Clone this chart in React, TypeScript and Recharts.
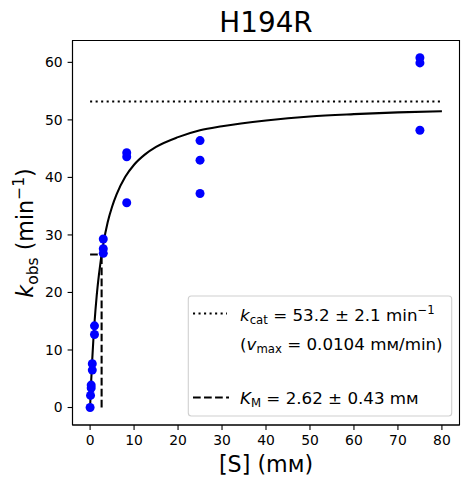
import { ComposedChart, XAxis, YAxis, Line, Scatter, ReferenceLine, ReferenceArea } from 'recharts'

// measured substrate concentrations (mM) and observed rates (min^-1)
const S_CONC = [0, 0.1, 0.25, 0.25, 0.5, 0.5, 1, 1, 3, 3, 3, 8.33, 8.33, 8.33, 25, 25, 25, 75, 75, 75]
const K_OBS = [0, 2.1, 3.4, 3.9, 6.5, 7.6, 12.7, 14.2, 26.8, 27.6, 29.3, 44.3, 43.6, 35.6, 46.4, 43.0, 37.2, 60.8, 59.9, 48.2]

// fitted curve
const FIT_S = [0, 0.25, 0.5, 1, 1.5, 2, 3, 4, 5, 6, 8, 10, 12.5, 15, 20, 25, 30, 40, 50, 60, 70, 80]
const FIT_K = [0, 4.6, 8.5, 14.7, 19.4, 23.0, 28.4, 32.2, 34.9, 37.0, 40.1, 42.2, 44.0, 45.3, 47.0, 48.2, 48.9, 49.9, 50.6, 51.0, 51.3, 51.5]

const KCAT = 53.2
const KCAT_ERR = 2.1
const VMAX = 0.0104
const KM = 2.62
const KM_ERR = 0.43
const S_MAX = 80

const X_TICKS = [0, 10, 20, 30, 40, 50, 60, 70, 80]
const Y_TICKS = [0, 10, 20, 30, 40, 50, 60]
const X_DOMAIN = [-4, 84]
const Y_DOMAIN = [-3.04, 63.8]

const FONT = 'DejaVu Sans'
const points = S_CONC.map((x, i) => ({ x, y: K_OBS[i] }))
const fit = FIT_S.map((x, i) => ({ x, y: FIT_K[i] }))

const axisStyle = { stroke: '#000', strokeWidth: 1.1 }
const tickStyle = { fill: '#000', fontSize: 13.9, fontFamily: FONT }

const Dot = (props: any) => <circle cx={props.cx} cy={props.cy} r={4.5} fill="#0000ff" />

export default function App() {
  return (
    <div style={{ position: 'absolute', left: 0, top: 0, width: 469, height: 484, background: '#fff' }}>
      <ComposedChart width={469} height={484} margin={{ top: 40.5, right: 9.5, bottom: 0, left: 0 }}>
        <XAxis
          type="number"
          dataKey="x"
          domain={X_DOMAIN}
          ticks={X_TICKS}
          allowDataOverflow
          height={59}
          axisLine={axisStyle}
          tickLine={axisStyle}
          tickSize={4.9}
          tickMargin={4.9}
          tick={tickStyle}
        />
        <YAxis
          type="number"
          dataKey="y"
          domain={Y_DOMAIN}
          ticks={Y_TICKS}
          allowDataOverflow
          width={72.5}
          axisLine={axisStyle}
          tickLine={axisStyle}
          tickSize={4.9}
          tickMargin={4.9}
          tick={tickStyle}
        />
        <ReferenceArea
          x1={X_DOMAIN[0]} x2={X_DOMAIN[1]} y1={Y_DOMAIN[0]} y2={Y_DOMAIN[1]}
          stroke="#000" strokeWidth={1.1} fill="none" fillOpacity={0}
        />
        <ReferenceLine
          segment={[{ x: 0, y: KCAT }, { x: S_MAX, y: KCAT }]}
          stroke="#000" strokeWidth={2.08} strokeDasharray="2.08 3.44"
        />
        <ReferenceLine
          segment={[{ x: 0, y: KCAT / 2 }, { x: KM, y: KCAT / 2 }]}
          stroke="#000" strokeWidth={2.08} strokeDasharray="7.7 3.33"
        />
        <ReferenceLine
          segment={[{ x: KM, y: 0 }, { x: KM, y: KCAT / 2 }]}
          stroke="#000" strokeWidth={2.08} strokeDasharray="7.7 3.33"
        />
        <Line data={fit} dataKey="y" type="monotone" stroke="#000" strokeWidth={2.08} dot={false} isAnimationActive={false} />
        <Scatter data={points} dataKey="y" shape={Dot} isAnimationActive={false} />
      </ComposedChart>

      <svg width={469} height={484} style={{ position: 'absolute', left: 0, top: 0, pointerEvents: 'none' }} fontFamily={FONT}>
        <text x={266} y={32.3} textAnchor="middle" fontSize={27.8} fill="#000">H194R</text>
        <text x={266} y={471.5} textAnchor="middle" fontSize={22.2} fill="#000">[S] (mᴍ)</text>
        <text x={33} y={233} textAnchor="middle" fontSize={22.2} fill="#000" transform="rotate(-90 33 233)">
          <tspan fontStyle="italic">k</tspan>
          <tspan fontSize={15.5} dy={4.5}>obs</tspan>
          <tspan dy={-4.5}> (min</tspan>
          <tspan fontSize={15.5} dy={-9}>−1</tspan>
          <tspan dy={9}>)</tspan>
        </text>

        <rect x={188.3} y={296} width={263.4} height={120} rx={3} fill="#fff" fillOpacity={0.8} stroke="#d0d0d0" strokeWidth={1.1} />
        <line x1={193} y1={313.5} x2={227} y2={313.5} stroke="#000" strokeWidth={2.08} strokeDasharray="2.08 3.44" />
        <line x1={193} y1={397.5} x2={229} y2={397.5} stroke="#000" strokeWidth={2.08} strokeDasharray="7.7 3.33" />
        <text x={240} y={320.5} fontSize={16.7} fill="#000">
          <tspan fontStyle="italic">k</tspan>
          <tspan fontSize={11.7} dy={3.5}>cat</tspan>
          <tspan dy={-3.5}> = {KCAT} ± {KCAT_ERR} min</tspan>
          <tspan fontSize={11.7} dy={-7}>−1</tspan>
        </text>
        <text x={240} y={349.5} fontSize={16.7} fill="#000">
          <tspan>(</tspan>
          <tspan fontStyle="italic">v</tspan>
          <tspan fontSize={11.7} dy={3.5}>max</tspan>
          <tspan dy={-3.5}> = {VMAX} mᴍ/min)</tspan>
        </text>
        <text x={240} y={403.5} fontSize={16.7} fill="#000">
          <tspan fontStyle="italic">K</tspan>
          <tspan fontSize={11.7} dy={3.5}>M</tspan>
          <tspan dy={-3.5}> = {KM} ± {KM_ERR} mᴍ</tspan>
        </text>
      </svg>
    </div>
  )
}
